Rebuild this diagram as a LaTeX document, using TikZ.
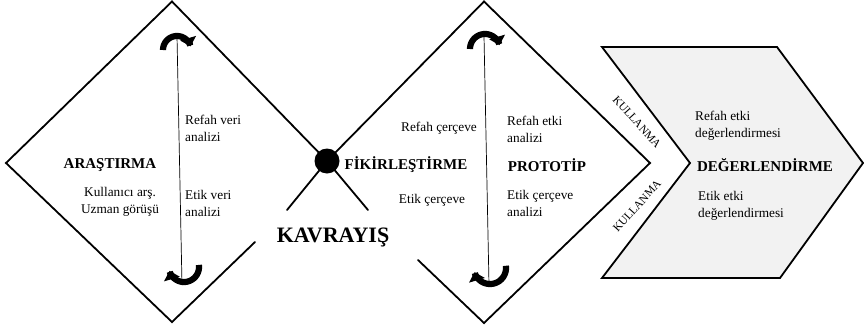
\documentclass[tikz,border=0pt]{standalone}
\usepackage{fontspec}
\setmainfont{Liberation Serif}
\usetikzlibrary{arrows.meta}
\definecolor{chevfill}{RGB}{242,242,242}
\begin{document}
\begin{tikzpicture}[x=1pt,y=-1pt,
  edge/.style={line width=1.8pt,line cap=round,line join=miter},
  axisline/.style={line width=0.7pt},
  turn/.style={line width=6.2pt,-{Triangle[length=8.5pt,width=16pt]}},
  title/.style={font=\fontsize{15}{18}\selectfont\bfseries,inner sep=0pt},
  body/.style={font=\fontsize{13.3}{17}\selectfont,align=left,inner sep=0pt},
  bodyc/.style={font=\fontsize{13.3}{17}\selectfont,align=center,inner sep=0pt},
  usage/.style={font=\fontsize{11.5}{13}\selectfont,inner sep=0pt}]
\useasboundingbox (0,0) rectangle (864,330);

% coordinates
\coordinate (Ltop) at (172,1.5);
\coordinate (Lleft) at (6,163);
\coordinate (Lbot) at (172,322);
\coordinate (Lcut) at (255,242);
\coordinate (Rtop) at (484,1.5);
\coordinate (Rright) at (650,163);
\coordinate (Rbot) at (484,323);
\coordinate (Rcut) at (418,260);
\coordinate (X) at (327,161);
\coordinate (Xa) at (368,210);
\coordinate (Xb) at (287,210);

% chevron
\draw[edge,fill=chevfill] (602,47) -- (777,47) -- (863,163) -- (780,278) -- (602,278) -- (690,163) -- cycle;

% left diamond
\draw[edge] (Lcut) -- (Lbot) -- (Lleft) -- (Ltop) -- (X) -- (Xa);
% right diamond
\draw[edge] (Rcut) -- (Rbot) -- (Rright) -- (Rtop) -- (X) -- (Xb);
\fill (X) circle[radius=12.5];

% vertical lines
\coordinate (L1a) at (177,36);
\coordinate (L1b) at (182,285);
\coordinate (L2a) at (484,36);
\coordinate (L2b) at (489,285);
\draw[axisline] (L1a) -- (L1b);
\draw[axisline] (L2a) -- (L2b);

% turning arrows
\draw[turn] plot[domain=180:345,samples=40,smooth] ({177+14*cos(\x)},{50+14*sin(\x)});
\draw[turn] plot[domain=-8:165,samples=40,smooth] ({184+15*cos(\x)},{267+15*sin(\x)});
\draw[turn] plot[domain=180:345,samples=40,smooth] ({485+15*cos(\x)},{49+15*sin(\x)});
\draw[turn] plot[domain=-8:165,samples=40,smooth] ({490+16*cos(\x)},{268+16*sin(\x)});

% texts
\node[title] (arastirma) at (110,165) {ARAŞTIRMA};
\node[bodyc] (kullanici) at (120,202) {Kullanıcı arş.\\Uzman görüşü};
\node[body,anchor=west] (refahveri) at (185,128) {Refah veri\\analizi};
\node[body,anchor=west] (etikveri) at (185,203) {Etik veri\\analizi};

\node[title] (fikir) at (406,165) {FİKİRLEŞTİRME};
\node[bodyc] (refahcer) at (439,128) {Refah çerçeve};
\node[bodyc] (etikcer) at (432,200) {Etik çerçeve};
\node[title] (prototip) at (547,165) {PROTOTİP};
\node[body,anchor=west] (refahetki) at (507,129) {Refah etki\\analizi};
\node[body,anchor=west] (etikcerana) at (507,203) {Etik çerçeve\\analizi};

\node[title] (degerlendirme) at (765,165) {DEĞERLENDİRME};
\node[body,anchor=west] (refahdeg) at (695,126) {Refah etki\\değerlendirmesi};
\node[body,anchor=west] (etikdeg) at (698,206) {Etik etki\\değerlendirmesi};

\node[usage,rotate=-48] (kull1) at (637,122) {KULLANMA};
\node[usage,rotate=48] (kull2) at (637,206) {KULLANMA};

\node[font=\fontsize{22}{25}\selectfont\bfseries,inner sep=0pt] (kavrayis) at (333,237) {KAVRAYIŞ};
\end{tikzpicture}
\end{document}
